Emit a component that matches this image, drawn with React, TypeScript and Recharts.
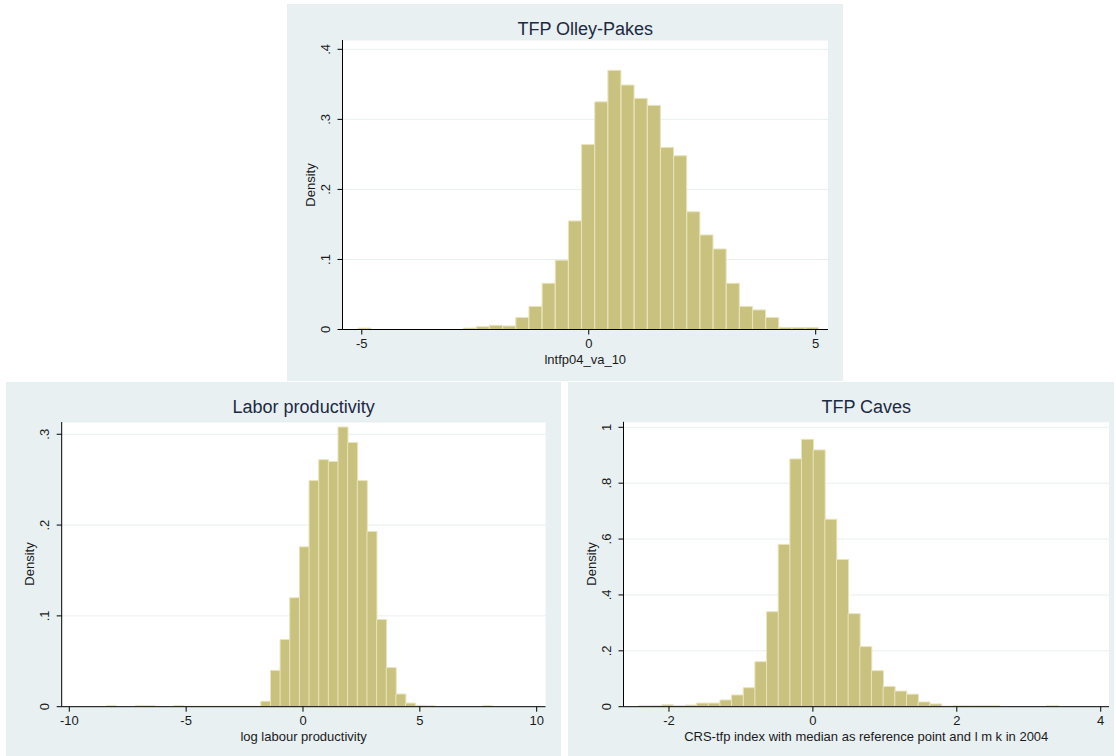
import React from "react";
import { BarChart, Bar, XAxis, YAxis, CartesianGrid } from "recharts";

// Stata-like colours
const PANEL_BG = "#e8f0f2";
const BAR_FILL = "#c9c17e";
const BAR_EDGE = "#e8e4bd";
const GRID = "#e9eff1";
const INK = "#1a1a1a";
const TITLE_INK = "#1c2942";

// TFP Olley-Pakes: 35 bins
const OP_BIN_START = -5.084;
const OP_BIN_WIDTH = 0.2898;
const OP_DENSITY = [
  0.002, 0, 0, 0, 0, 0, 0, 0, 0.002, 0.004, 0.006, 0.005, 0.017, 0.033, 0.066,
  0.099, 0.155, 0.264, 0.325, 0.37, 0.349, 0.33, 0.32, 0.26, 0.248, 0.168,
  0.135, 0.115, 0.066, 0.033, 0.028, 0.017, 0.003, 0.003, 0.003,
];
const OP_X_TICKS = [-5, 0, 5];
const OP_Y_TICKS = [0, 0.1, 0.2, 0.3, 0.4];

// Labor productivity: 40 bins
const LP_BIN_START = -8.414;
const LP_BIN_WIDTH = 0.413;
const LP_DENSITY = [
  0.001, 0, 0, 0.001, 0.001, 0, 0, 0.001, 0.0005, 0.0005, 0.0005, 0.0005,
  0.0005, 0.0005, 0.0005, 0.0005, 0.006, 0.04, 0.074, 0.12, 0.176, 0.249,
  0.272, 0.27, 0.308, 0.291, 0.249, 0.193, 0.096, 0.043, 0.014, 0.004, 0.0015,
  0.001, 0, 0, 0, 0, 0, 0.001,
];
const LP_X_TICKS = [-10, -5, 0, 5, 10];
const LP_Y_TICKS = [0, 0.1, 0.2, 0.3];

// TFP Caves: 36 bins
const TC_BIN_START = -2.426;
const TC_BIN_WIDTH = 0.162;
const TC_DENSITY = [
  0.003, 0.004, 0.007, 0.004, 0.006, 0.013, 0.013, 0.024, 0.042, 0.068, 0.161,
  0.34, 0.581, 0.887, 0.957, 0.919, 0.671, 0.527, 0.333, 0.215, 0.129, 0.072,
  0.056, 0.045, 0.017, 0.01, 0.002, 0.003, 0.003, 0.003, 0.003, 0, 0, 0, 0,
  0.003,
];
const TC_X_TICKS = [-2, 0, 2, 4];
const TC_Y_TICKS = [0, 0.2, 0.4, 0.6, 0.8, 1];

const toBins = (start: number, width: number, density: number[]) =>
  density.map((d, i) => ({ x: start + width * (i + 0.5), density: d }));

const fmtY = (v: number) => (v === 0 ? "0" : String(v).replace(/^0/, ""));

function YTick(props: any) {
  const { x, y, payload } = props;
  return (
    <g transform={`translate(${x},${y}) rotate(-90)`}>
      <text x={0} y={0} textAnchor="middle" dominantBaseline="central" fontSize={13} fill={INK}>
        {fmtY(payload.value)}
      </text>
    </g>
  );
}

type Plot = { l: number; r: number; t: number; b: number };

function Histogram(p: {
  left: number;
  top: number;
  width: number;
  height: number;
  plot: Plot;
  xDomain: [number, number];
  yDomain: [number, number];
  xTicks: number[];
  yTicks: number[];
  data: { x: number; density: number }[];
  title: string;
  xLabel: string;
}) {
  const { width: W, height: H, plot } = p;
  const cx = (plot.l + plot.r) / 2;
  return (
    <div
      style={{
        position: "absolute",
        left: p.left,
        top: p.top,
        width: W,
        height: H,
        background: PANEL_BG,
        fontFamily: "'Liberation Sans', Arial, sans-serif",
      }}
    >
      <BarChart
        width={W}
        height={H}
        data={p.data}
        margin={{ top: plot.t, right: W - plot.r, bottom: 0, left: 0 }}
        barCategoryGap={0}
        barGap={0}
      >
        <CartesianGrid vertical={false} stroke={GRID} fill="#ffffff" fillOpacity={1} />
        <Bar
          dataKey="density"
          fill={BAR_FILL}
          stroke={BAR_EDGE}
          strokeWidth={1}
          isAnimationActive={false}
        />
        <XAxis
          type="number"
          dataKey="x"
          domain={p.xDomain}
          ticks={p.xTicks}
          allowDataOverflow
          interval={0}
          height={H - plot.b}
          tickSize={5}
          tickMargin={4}
          axisLine={{ stroke: "#000" }}
          tickLine={{ stroke: "#000" }}
          tick={{ fill: INK, fontSize: 13 }}
        />
        <YAxis
          type="number"
          domain={p.yDomain}
          ticks={p.yTicks}
          allowDataOverflow
          interval={0}
          width={plot.l}
          tickSize={5}
          tickMargin={12}
          axisLine={{ stroke: "#000" }}
          tickLine={{ stroke: "#000" }}
          tick={<YTick />}
        />
      </BarChart>
      <div
        style={{
          position: "absolute",
          left: cx - 300,
          width: 600,
          top: 14.5,
          lineHeight: "20px",
          fontSize: 18,
          textAlign: "center",
          color: TITLE_INK,
        }}
      >
        {p.title}
      </div>
      <div
        style={{
          position: "absolute",
          left: cx - 300,
          width: 600,
          top: plot.b + 23,
          lineHeight: "13px",
          fontSize: 13,
          textAlign: "center",
          color: INK,
          whiteSpace: "nowrap",
        }}
      >
        {p.xLabel}
      </div>
      <div
        style={{
          position: "absolute",
          left: plot.l - 32,
          top: (plot.t + plot.b) / 2,
          fontSize: 13,
          lineHeight: "16px",
          color: INK,
          whiteSpace: "nowrap",
          transform: "translate(-50%, -50%) rotate(-90deg)",
        }}
      >
        Density
      </div>
    </div>
  );
}

export default function App() {
  return (
    <div style={{ position: "absolute", left: 0, top: 0, width: 1116, height: 756, background: "#ffffff" }}>
      <Histogram
        left={287}
        top={4}
        width={556}
        height={377}
        plot={{ l: 55.5, r: 541, t: 36, b: 325.5 }}
        xDomain={[-5.425, 5.271]}
        yDomain={[0, 0.4133]}
        xTicks={OP_X_TICKS}
        yTicks={OP_Y_TICKS}
        data={toBins(OP_BIN_START, OP_BIN_WIDTH, OP_DENSITY)}
        title="TFP Olley-Pakes"
        xLabel="lntfp04_va_10"
      />
      <Histogram
        left={6}
        top={382}
        width={555}
        height={374}
        plot={{ l: 55.7, r: 539.5, t: 40, b: 324.7 }}
        xDomain={[-10.325, 10.377]}
        yDomain={[0, 0.3135]}
        xTicks={LP_X_TICKS}
        yTicks={LP_Y_TICKS}
        data={toBins(LP_BIN_START, LP_BIN_WIDTH, LP_DENSITY)}
        title="Labor productivity"
        xLabel="log labour productivity"
      />
      <Histogram
        left={568}
        top={382}
        width={546}
        height={374}
        plot={{ l: 55.5, r: 541, t: 39.8, b: 324.7 }}
        xDomain={[-2.632, 4.115]}
        yDomain={[0, 1.0197]}
        xTicks={TC_X_TICKS}
        yTicks={TC_Y_TICKS}
        data={toBins(TC_BIN_START, TC_BIN_WIDTH, TC_DENSITY)}
        title="TFP Caves"
        xLabel="CRS-tfp index with median as reference point and l m k in 2004"
      />
    </div>
  );
}
